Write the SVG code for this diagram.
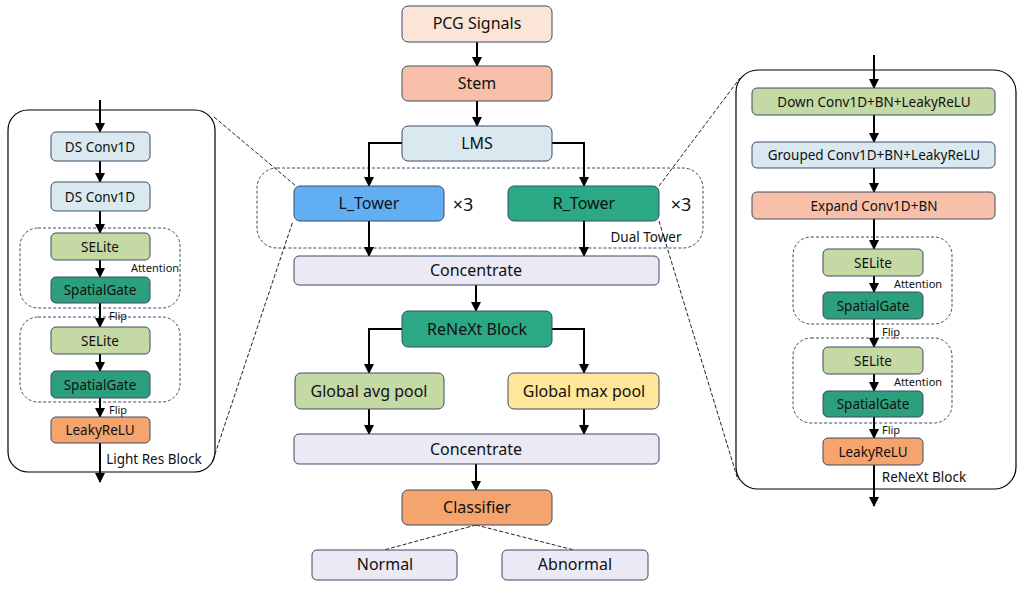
<svg xmlns="http://www.w3.org/2000/svg" width="1023" height="594" viewBox="0 0 1023 594">
<defs>
<marker id="ah" viewBox="0 0 10 10" refX="9" refY="5" markerWidth="5" markerHeight="5" markerUnits="strokeWidth" orient="auto">
<path d="M0,0 L10,5 L0,10 z" fill="#000"/>
</marker>
<style>
.n{stroke:#3C4A66;stroke-width:1}
.t{font-family:"Noto Sans","Open Sans",sans-serif;fill:#111;text-anchor:middle;dominant-baseline:central}
.big{font-size:16px}
.mid{font-size:13.5px}
.sm{font-size:11px}
.a{stroke:#000;stroke-width:2;fill:none;marker-end:url(#ah)}
.d{stroke:#3C4A66;stroke-width:1;fill:none;stroke-dasharray:3,2}
.z{stroke:#222;stroke-width:1;fill:none;stroke-dasharray:4,2}
.panel{fill:#fff;stroke:#000;stroke-width:1.2}
</style>
</defs>
<rect width="1023" height="594" fill="#fff"/>

<!-- panels and groups -->
<rect class="panel" x="8" y="110" width="207" height="362" rx="20"/>
<rect class="panel" x="736" y="70" width="280" height="419" rx="22"/>
<rect class="d" x="257" y="168" width="446" height="80" rx="20"/>
<rect class="d" x="20" y="228" width="160" height="80" rx="18"/>
<rect class="d" x="20" y="317" width="160" height="85" rx="18"/>
<rect class="d" x="793" y="237" width="159" height="87" rx="18"/>
<rect class="d" x="793" y="338" width="159" height="85" rx="18"/>

<g id="connectors">
<!-- zoom lines -->
<line class="z" x1="214" y1="117" x2="296" y2="186"/>
<line class="z" x1="213" y1="460" x2="293" y2="221"/>
<line class="z" x1="659" y1="186" x2="740" y2="78"/>
<line class="z" x1="659" y1="221" x2="738" y2="480"/>
<line class="z" x1="476" y1="525" x2="384" y2="550"/>
<line class="z" x1="476" y1="525" x2="574" y2="550"/>
<!-- center flow -->
<line class="a" x1="477" y1="42" x2="477" y2="66"/>
<line class="a" x1="477" y1="101" x2="477" y2="126"/>
<polyline class="a" points="402,143 369,143 369,186"/>
<polyline class="a" points="552,143 584,143 584,186"/>
<line class="a" x1="369" y1="221" x2="369" y2="256"/>
<line class="a" x1="584" y1="221" x2="584" y2="256"/>
<line class="a" x1="476" y1="285" x2="476" y2="311"/>
<polyline class="a" points="402,329 369,329 369,373"/>
<polyline class="a" points="552,329 584,329 584,373"/>
<line class="a" x1="369" y1="409" x2="369" y2="434"/>
<line class="a" x1="584" y1="409" x2="584" y2="434"/>
<line class="a" x1="476" y1="464" x2="476" y2="490"/>
<!-- left panel -->
<line class="a" x1="100" y1="100" x2="100" y2="132"/>
<line class="a" x1="100" y1="161" x2="100" y2="182"/>
<line class="a" x1="100" y1="211" x2="100" y2="233"/>
<line class="a" x1="100" y1="260" x2="100" y2="277"/>
<line class="a" x1="100" y1="303" x2="100" y2="327"/>
<line class="a" x1="100" y1="354" x2="100" y2="371"/>
<line class="a" x1="100" y1="398" x2="100" y2="417"/>
<line class="a" x1="100" y1="443" x2="100" y2="482"/>
<!-- right panel -->
<line class="a" x1="874" y1="55" x2="874" y2="88"/>
<line class="a" x1="874" y1="115" x2="874" y2="142"/>
<line class="a" x1="874" y1="168" x2="874" y2="192"/>
<line class="a" x1="874" y1="219" x2="874" y2="249"/>
<line class="a" x1="874" y1="276" x2="874" y2="292"/>
<line class="a" x1="874" y1="319" x2="874" y2="347"/>
<line class="a" x1="874" y1="374" x2="874" y2="391"/>
<line class="a" x1="874" y1="417" x2="874" y2="438"/>
<line class="a" x1="874" y1="465" x2="874" y2="506"/>
</g>

<!-- center nodes -->
<g id="pcg"><rect class="n" x="402" y="6" width="150" height="36" rx="6" fill="#FBE5D6"/><text class="t big" x="477" y="23">PCG Signals</text></g>
<g id="stem"><rect class="n" x="402" y="66" width="150" height="35" rx="6" fill="#F8C0A9"/><text class="t big" x="477" y="83">Stem</text></g>
<g id="lms"><rect class="n" x="402" y="126" width="150" height="35" rx="6" fill="#DAE8F0"/><text class="t big" x="477" y="143">LMS</text></g>
<g id="ltower"><rect class="n" x="294" y="186" width="150" height="35" rx="6" fill="#61AEF3"/><text class="t big" x="369" y="203">L_Tower</text><text class="t" x="463" y="204" style="font-size:18px">×3</text></g>
<g id="rtower"><rect class="n" x="508" y="186" width="151" height="35" rx="6" fill="#2BA884"/><text class="t big" x="584" y="203">R_Tower</text><text class="t" x="681" y="204" style="font-size:18px">×3</text></g>
<text class="t mid" x="646" y="237">Dual Tower</text>
<g id="concat1"><rect class="n" x="294" y="256" width="365" height="29" rx="5" fill="#EAE9F4"/><text class="t big" x="476" y="270">Concentrate</text></g>
<g id="renext"><rect class="n" x="402" y="311" width="150" height="36" rx="6" fill="#2BA884"/><text class="t big" x="477" y="329">ReNeXt Block</text></g>
<g id="avgpool"><rect class="n" x="295" y="373" width="149" height="36" rx="6" fill="#C5D9A4"/><text class="t big" x="369" y="391">Global avg pool</text></g>
<g id="maxpool"><rect class="n" x="508" y="373" width="151" height="36" rx="6" fill="#FFE699"/><text class="t big" x="584" y="391">Global max pool</text></g>
<g id="concat2"><rect class="n" x="294" y="434" width="365" height="30" rx="5" fill="#EAE9F4"/><text class="t big" x="476" y="449">Concentrate</text></g>
<g id="classifier"><rect class="n" x="402" y="490" width="150" height="35" rx="6" fill="#F5A46E"/><text class="t big" x="477" y="507">Classifier</text></g>
<g id="normal"><rect class="n" x="312" y="550" width="145" height="30" rx="5" fill="#EAE9F4"/><text class="t big" x="385" y="564">Normal</text></g>
<g id="abnormal"><rect class="n" x="502" y="550" width="146" height="30" rx="5" fill="#EAE9F4"/><text class="t big" x="575" y="564">Abnormal</text></g>

<!-- left panel nodes -->
<g id="ds1"><rect class="n" x="51" y="132" width="99" height="29" rx="5" fill="#DAE8F0"/><text class="t mid" x="100" y="147">DS Conv1D</text></g>
<g id="ds2"><rect class="n" x="51" y="182" width="99" height="29" rx="5" fill="#DAE8F0"/><text class="t mid" x="100" y="197">DS Conv1D</text></g>
<g id="lse1"><rect class="n" x="51" y="233" width="99" height="27" rx="5" fill="#C5D9A4"/><text class="t mid" x="100" y="247">SELite</text></g>
<g id="lsg1"><rect class="n" x="51" y="277" width="99" height="26" rx="5" fill="#2CA07C"/><text class="t mid" x="100" y="290">SpatialGate</text></g>
<g id="lse2"><rect class="n" x="51" y="327" width="99" height="27" rx="5" fill="#C5D9A4"/><text class="t mid" x="100" y="341">SELite</text></g>
<g id="lsg2"><rect class="n" x="51" y="371" width="99" height="27" rx="5" fill="#2CA07C"/><text class="t mid" x="100" y="385">SpatialGate</text></g>
<g id="lrelu"><rect class="n" x="51" y="417" width="99" height="26" rx="5" fill="#F5A46E"/><text class="t mid" x="100" y="430">LeakyReLU</text></g>
<text class="t sm" x="155" y="267">Attention</text>
<text class="t sm" x="118" y="315">Flip</text>
<text class="t sm" x="118" y="409">Flip</text>
<text class="t mid" x="154" y="459">Light Res Block</text>

<!-- right panel nodes -->
<g id="down"><rect class="n" x="752" y="88" width="243" height="27" rx="5" fill="#C5D9A4"/><text class="t mid" x="874" y="102">Down Conv1D+BN+LeakyReLU</text></g>
<g id="grouped"><rect class="n" x="752" y="142" width="243" height="26" rx="5" fill="#DAE8F0"/><text class="t mid" x="874" y="155">Grouped Conv1D+BN+LeakyReLU</text></g>
<g id="expand"><rect class="n" x="752" y="192" width="243" height="27" rx="5" fill="#F8C0A9"/><text class="t mid" x="874" y="206">Expand Conv1D+BN</text></g>
<g id="rse1"><rect class="n" x="823" y="249" width="100" height="27" rx="5" fill="#C5D9A4"/><text class="t mid" x="873" y="263">SELite</text></g>
<g id="rsg1"><rect class="n" x="823" y="292" width="100" height="27" rx="5" fill="#2CA07C"/><text class="t mid" x="873" y="306">SpatialGate</text></g>
<g id="rse2"><rect class="n" x="823" y="347" width="100" height="27" rx="5" fill="#C5D9A4"/><text class="t mid" x="873" y="361">SELite</text></g>
<g id="rsg2"><rect class="n" x="823" y="391" width="100" height="26" rx="5" fill="#2CA07C"/><text class="t mid" x="873" y="404">SpatialGate</text></g>
<g id="rrelu"><rect class="n" x="823" y="438" width="100" height="27" rx="5" fill="#F5A46E"/><text class="t mid" x="873" y="452">LeakyReLU</text></g>
<text class="t sm" x="918" y="283">Attention</text>
<text class="t sm" x="891" y="331">Flip</text>
<text class="t sm" x="918" y="381">Attention</text>
<text class="t sm" x="891" y="429">Flip</text>
<text class="t mid" x="924" y="477">ReNeXt Block</text>
</svg>
